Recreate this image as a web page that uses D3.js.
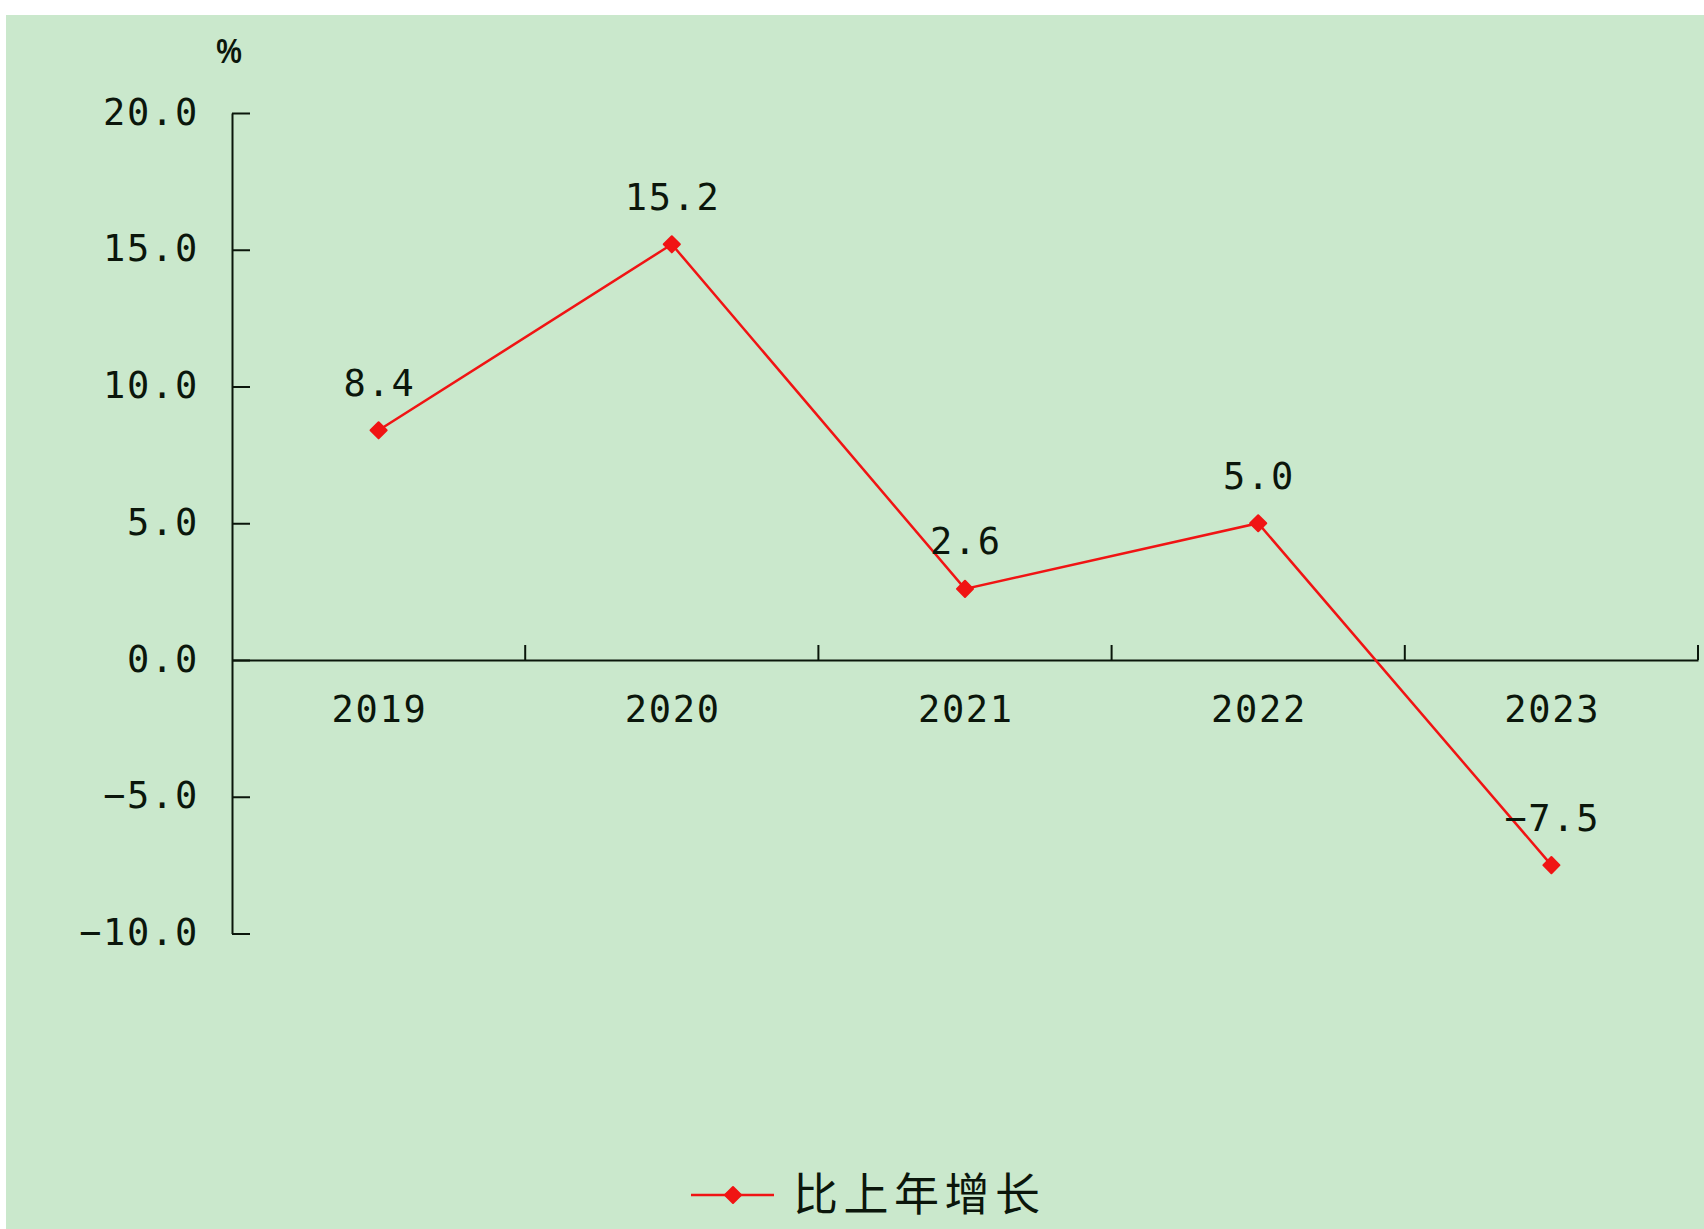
<!DOCTYPE html>
<html>
<head>
<meta charset="utf-8">
<script src="https://cdn.jsdelivr.net/npm/d3@7/dist/d3.min.js"></script>
<style>
  html, body { margin: 0; padding: 0; background: #ffffff; }
  svg { display: block; }
</style>
</head>
<body>
<script>
const years = ["2019", "2020", "2021", "2022", "2023"];
const growth = [8.4, 15.2, 2.6, 5.0, -7.5];
const yTicks = [20, 15, 10, 5, 0, -5, -10];
const unitLabel = "%";
const seriesName = "比上年增长";

const W = 1704, H = 1229;
const numFont = "'DejaVu Sans Mono', monospace";
const cjkFont = "'Noto Sans CJK SC', sans-serif";
const ink = "#0b160b";
const red = "#f01414";

const svg = d3.select("body").append("svg").attr("width", W).attr("height", H);

svg.append("rect").attr("x", 6).attr("y", 15).attr("width", W - 6).attr("height", H - 15)
  .attr("fill", "#cae8cc");

const x = d3.scaleBand().domain(years).range([232, 1698]).padding(0);
const y = d3.scaleLinear().domain([-10, 20]).range([933.5, 113]);

// Y axis
const yAxis = svg.append("g").attr("transform", `translate(${x.range()[0]},0)`)
  .call(d3.axisLeft(y).tickValues(yTicks).tickSizeInner(-18).tickSizeOuter(0).tickPadding(33)
    .tickFormat(d3.format(".1f")));
yAxis.select(".domain").attr("stroke", ink).attr("stroke-width", 2);
yAxis.selectAll(".tick line").attr("stroke", ink).attr("stroke-width", 2);
yAxis.selectAll(".tick text")
  .attr("font-family", numFont).attr("font-size", 37).attr("fill", ink)
  .attr("letter-spacing", 1.7).attr("dy", "0.3em");

// X axis at zero
const xAxis = svg.append("g").attr("transform", `translate(0,${y(0)})`)
  .call(d3.axisBottom(x).tickSize(0).tickPadding(36));
xAxis.select(".domain").attr("stroke", ink).attr("stroke-width", 2);
xAxis.selectAll(".tick text")
  .attr("font-family", numFont).attr("font-size", 37).attr("fill", ink)
  .attr("letter-spacing", 1.7).attr("dx", 0.85);
xAxis.selectAll(".bound").data(years).join("line")
  .attr("class", "bound")
  .attr("x1", d => x(d) + x.bandwidth()).attr("x2", d => x(d) + x.bandwidth())
  .attr("y1", 0).attr("y2", -15)
  .attr("stroke", ink).attr("stroke-width", 2);

// Unit label
svg.append("text").attr("x", 0).attr("y", 0).attr("text-anchor", "middle")
  .attr("font-family", "'Liberation Sans', sans-serif").attr("font-weight", "bold").attr("font-size", 36)
  .attr("transform", "translate(229,63) scale(0.8,1)")
  .attr("fill", ink).text(unitLabel);

// Line
const pts = years.map((d, i) => ({ year: d, v: growth[i] }));
const line = d3.line().x(d => x(d.year) + x.bandwidth() / 2).y(d => y(d.v));
svg.append("path").datum(pts).attr("d", line)
  .attr("fill", "none").attr("stroke", red).attr("stroke-width", 2.5);

// square diamond marker (equal width and height)
const markerType = {
  draw(ctx, size) {
    const r = Math.sqrt(size / 2);
    ctx.moveTo(0, -r); ctx.lineTo(r, 0); ctx.lineTo(0, r); ctx.lineTo(-r, 0); ctx.closePath();
  }
};
const marker = d3.symbol().type(markerType).size(130);
svg.selectAll(".pt").data(pts).join("path").attr("class", "pt")
  .attr("transform", d => `translate(${x(d.year) + x.bandwidth() / 2},${y(d.v)})`)
  .attr("d", marker).attr("fill", red)
  .attr("stroke", red).attr("stroke-width", 2).attr("stroke-linejoin", "round");

// Data labels
svg.selectAll(".lbl").data(pts).join("text").attr("class", "lbl")
  .attr("x", d => x(d.year) + x.bandwidth() / 2 + 0.85)
  .attr("y", d => y(d.v) - 48 + 13.5)
  .attr("text-anchor", "middle")
  .attr("font-family", numFont).attr("font-size", 37).attr("letter-spacing", 1.7)
  .attr("fill", ink).text(d => d3.format(".1f")(d.v));

// Legend
const ly = 1195;
svg.append("line").attr("x1", 691).attr("x2", 774).attr("y1", ly).attr("y2", ly)
  .attr("stroke", red).attr("stroke-width", 2.5);
svg.append("path").attr("transform", `translate(733,${ly})`).attr("d", marker).attr("fill", red)
  .attr("stroke", red).attr("stroke-width", 2).attr("stroke-linejoin", "round");
svg.append("text").attr("x", 793).attr("y", ly + 16)
  .attr("font-family", cjkFont).attr("font-size", 45).attr("letter-spacing", 5.5)
  .attr("fill", ink).text(seriesName);
</script>
</body>
</html>
